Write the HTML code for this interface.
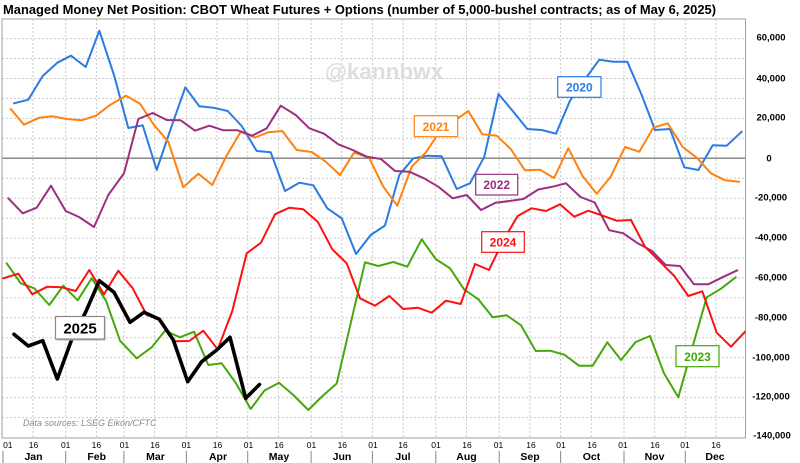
<!DOCTYPE html>
<html><head><meta charset="utf-8"><style>
html,body{margin:0;padding:0;background:#fff;}
svg{display:block;font-family:"Liberation Sans",Arial,sans-serif;}
</style></head><body>
<svg width="800" height="463" viewBox="0 0 800 463" xmlns="http://www.w3.org/2000/svg">
<rect width="800" height="463" fill="#fff"/>
<text x="3" y="14" font-size="12.5" font-weight="bold" fill="#000" textLength="713" lengthAdjust="spacingAndGlyphs">Managed Money Net Position: CBOT Wheat Futures + Options (number of 5,000-bushel contracts; as of May 6, 2025)</text>
<g stroke="#c9c9c9" stroke-width="1" stroke-dasharray="2,2" fill="none">
<line x1="2" x2="745" y1="38.6" y2="38.6"/><line x1="2" x2="745" y1="58.5" y2="58.5"/><line x1="2" x2="745" y1="78.5" y2="78.5"/><line x1="2" x2="745" y1="98.4" y2="98.4"/><line x1="2" x2="745" y1="118.4" y2="118.4"/><line x1="2" x2="745" y1="138.3" y2="138.3"/><line x1="2" x2="745" y1="178.2" y2="178.2"/><line x1="2" x2="745" y1="198.2" y2="198.2"/><line x1="2" x2="745" y1="218.1" y2="218.1"/><line x1="2" x2="745" y1="238.1" y2="238.1"/><line x1="2" x2="745" y1="258" y2="258"/><line x1="2" x2="745" y1="278" y2="278"/><line x1="2" x2="745" y1="297.9" y2="297.9"/><line x1="2" x2="745" y1="317.9" y2="317.9"/><line x1="2" x2="745" y1="337.8" y2="337.8"/><line x1="2" x2="745" y1="357.8" y2="357.8"/><line x1="2" x2="745" y1="377.7" y2="377.7"/><line x1="2" x2="745" y1="397.7" y2="397.7"/><line x1="2" x2="745" y1="417.6" y2="417.6"/>
<line y1="19" y2="438" x1="33" x2="33"/><line y1="19" y2="438" x1="65.7" x2="65.7"/><line y1="19" y2="438" x1="96.4" x2="96.4"/><line y1="19" y2="438" x1="123.9" x2="123.9"/><line y1="19" y2="438" x1="154.6" x2="154.6"/><line y1="19" y2="438" x1="186.4" x2="186.4"/><line y1="19" y2="438" x1="217" x2="217"/><line y1="19" y2="438" x1="247.7" x2="247.7"/><line y1="19" y2="438" x1="278.4" x2="278.4"/><line y1="19" y2="438" x1="311.1" x2="311.1"/><line y1="19" y2="438" x1="341.8" x2="341.8"/><line y1="19" y2="438" x1="372.4" x2="372.4"/><line y1="19" y2="438" x1="403.1" x2="403.1"/><line y1="19" y2="438" x1="435.8" x2="435.8"/><line y1="19" y2="438" x1="466.5" x2="466.5"/><line y1="19" y2="438" x1="499.2" x2="499.2"/><line y1="19" y2="438" x1="529.9" x2="529.9"/><line y1="19" y2="438" x1="560.6" x2="560.6"/><line y1="19" y2="438" x1="591.3" x2="591.3"/><line y1="19" y2="438" x1="624" x2="624"/><line y1="19" y2="438" x1="654.7" x2="654.7"/><line y1="19" y2="438" x1="685.3" x2="685.3"/><line y1="19" y2="438" x1="716" x2="716"/>
</g>
<text x="384" y="79" font-size="22.5" font-weight="bold" fill="#dedede" text-anchor="middle">@kannbwx</text>
<line x1="2" x2="745" y1="158.3" y2="158.3" stroke="#8a8a8a" stroke-width="1.5"/>
<rect x="2" y="19" width="743.5" height="419" fill="none" stroke="#a0a0a0" stroke-width="1"/>
<text x="23" y="426" font-size="9" font-style="italic" fill="#8a8a8a">Data sources: LSEG Eikon/CFTC</text>
<defs><clipPath id="c"><rect x="2" y="19" width="743.5" height="419"/></clipPath></defs>
<g clip-path="url(#c)" fill="none" stroke-linejoin="round" stroke-linecap="round">
<polyline stroke="#2a7be4" stroke-width="2" points="14,103.3 28.3,99.7 42.7,76 57.3,62.7 71,55.7 85.7,67 99.3,30.7 114,75 128.3,128 142.7,125.3 156.7,170 171,128 185.3,87.3 199.3,106.3 213.3,107.7 227.7,111 241.7,126 256.7,151 270.7,152.3 285,191 299.3,182.7 313.3,185.3 327.3,208.3 341.7,218.3 356,254 370.7,235 385,225.5 399.3,175 413.3,158.3 427.7,155.7 441.7,156.3 456.7,189 470,183.3 484.3,156.7 498.5,94 513.3,111.7 527.3,129 541.7,130 556,133.7 570,100.7 584.5,80 599.3,59.7 613.3,61.7 627.3,61.7 641.7,95 655,130 670,129 684.3,167.3 698.3,170 712.7,145.3 726.7,145.7 741.7,131.7"/>
<polyline stroke="#ff8110" stroke-width="2" points="10.7,109 24,124.7 39.3,117.7 52.7,116.3 66.7,119 81.7,120.3 96,115.7 110,105 126,95.7 140,103.7 154,125 168.3,141.7 183.3,187.3 198.3,173.7 212.3,185 226,156.7 240.7,131.7 255,137.5 268.3,132.3 282.3,131 296.7,150 311.7,152 325.7,161.7 340,175 354,152.7 369,157.7 383.3,186.7 397.3,205.7 411.7,166.7 426,152.3 440,131 454,121 468.3,111 482.3,134.3 496.7,135.7 510.7,149 525,170.3 540,169.7 554,178 568.3,148.3 582.7,176.3 596.7,193.7 610.7,176.7 625,147 639.3,151.7 653.3,127.7 667.7,123.3 682.7,147 696.7,157.7 711,173.3 725,180.3 739.3,181.7"/>
<polyline stroke="#9c2f80" stroke-width="2" points="8.3,198.3 22.7,213.3 36.7,207.7 51,185.7 65.7,211 79,217 94,227 108.3,195 124,173.3 138.3,119 152.7,113 166.7,120 180.7,120.3 195,130.7 209.3,125.7 223.3,130.3 237.7,130.3 252,135.7 266.7,128.3 280.7,105.7 295.7,115 309.3,128.3 324,133.7 338.3,144.3 352.7,150 366.7,156.7 381,159 395,171 409.3,171.7 424,178.3 438.3,186.7 452.7,198.3 466.7,195 481,210 495.7,202.7 509.5,201 523.3,199 538.3,189.5 552.7,186.7 566,183.3 580.5,197 594.7,202.5 609.2,230.2 623.3,233.3 637.7,243.3 651.7,250.7 665.7,265 680,266 694,284.3 708.3,284.3 722.3,277.3 737.3,270.3"/>
<polyline stroke="#44a80c" stroke-width="2" points="6.7,263.3 20.7,283.3 34.3,288.3 49.3,305 63.3,285.7 77.7,300.3 91.7,278.3 106,300.7 120,340.7 136.7,358.3 151.7,347.3 165,330.7 180,337.3 194,331.7 208.3,365 221.7,363.3 236,383.3 250.7,409 264.5,390.5 279,382.7 293.3,395 308.3,410 322.5,396 336.7,383.5 350.7,323.3 365,262.3 378.3,266 393.3,262 407.3,266.7 421.7,239.3 435.7,259 450,268.3 464,289.3 478.3,299.3 492.7,317.3 506.7,315.3 521,325.3 535.7,351 550,350.7 564.3,354.7 579,365.7 592.7,365.7 607.3,342.3 621,360 635.7,342 650,336 664,373.3 678.3,397.3 692.5,347 706.7,297.3 721,288.7 735.7,277.3"/>
<polyline stroke="#ff1010" stroke-width="2" points="3.3,278.3 18.3,273.7 32.3,294.3 47.3,286.7 61.7,287.3 75.7,291 89.3,270 104,294.3 118.3,270.7 132.7,288.3 146.7,315 160,319 175,341.3 189.3,341 203.3,330.7 217.7,349.3 232.3,311 246.7,253.3 261,242.7 275,214.3 289.3,207.7 303.3,209.3 317.7,221.7 332.3,249.3 346.7,263.3 360,298.3 375,305.7 389.3,296 403.3,309 417.7,307.7 431.7,312.7 446,300.7 460.7,304 475,264 489,270 503.5,240 517.7,216 531.7,208.3 546,211 560,204.3 574.3,216.7 588.3,210.7 602.7,215.7 616.7,220.7 631,220 645,246.7 660,261.7 674.3,276 688.3,296 702.3,291.3 716.7,332.7 731,346.7 746,330.7"/>
<polyline stroke="#000" stroke-width="3.6" points="14,334.3 28.3,346 42.7,340.7 57.3,379 71.5,340 85.7,312 99.3,280.7 114,292.3 130,322.3 144,312.3 159.3,319.3 173.3,340 187.7,381.7 201.7,361.7 216.7,350 230,337.3 245.7,398.3 259.5,384.5"/>
</g>
<g font-size="12" font-weight="bold" text-anchor="middle">
<rect x="557.7" y="76.7" width="43.3" height="20.6" fill="#fff" stroke="#2a7be4" stroke-width="1.2"/><text x="579.3" y="91.5" fill="#2a7be4">2020</text>
<rect x="414.3" y="115.7" width="43.4" height="21" fill="#fff" stroke="#ff8110" stroke-width="1.2"/><text x="436" y="130.8" fill="#ff8110">2021</text>
<rect x="475.7" y="174.3" width="42" height="20.7" fill="#fff" stroke="#9c2f80" stroke-width="1.2"/><text x="496.7" y="189.2" fill="#9c2f80">2022</text>
<rect x="481.7" y="231.7" width="42.6" height="20.6" fill="#fff" stroke="#ff1010" stroke-width="1.2"/><text x="503" y="246.5" fill="#ff1010">2024</text>
<rect x="676" y="345.7" width="43" height="21" fill="#fff" stroke="#44a80c" stroke-width="1.2"/><text x="697.5" y="360.8" fill="#44a80c">2023</text>
<rect x="56.5" y="317.5" width="49" height="23" fill="#b0b0b0"/>
<rect x="55.5" y="316.5" width="49" height="22.5" fill="#fff" stroke="#8a8a8a" stroke-width="1.2"/><text x="80" y="333.5" fill="#000" font-size="15">2025</text>
</g>
<g font-size="9.5" font-weight="bold" text-anchor="middle" fill="#000">
<text x="771" y="40.5">60,000</text><text x="771" y="81.5">40,000</text><text x="771" y="120.5">20,000</text><text x="769" y="161.5">0</text><text x="771" y="200.5">-20,000</text><text x="771" y="240.5">-40,000</text><text x="771" y="280.5">-60,000</text><text x="771" y="320.5">-80,000</text><text x="771" y="360.5">-100,000</text><text x="771" y="399.5">-120,000</text><text x="772" y="438.5">-140,000</text>
</g>
<g font-size="8.5" text-anchor="middle" fill="#000">
<text x="7.8" y="448">01</text><text x="33.5" y="448">16</text><text x="65.7" y="448">01</text><text x="96.4" y="448">16</text><text x="124.5" y="448">01</text><text x="155" y="448">16</text><text x="186.4" y="448">01</text><text x="217.5" y="448">16</text><text x="248.5" y="448">01</text><text x="279" y="448">16</text><text x="311.5" y="448">01</text><text x="342.3" y="448">16</text><text x="373" y="448">01</text><text x="403" y="448">16</text><text x="436" y="448">01</text><text x="467" y="448">16</text><text x="498.5" y="448">01</text><text x="531" y="448">16</text><text x="561" y="448">01</text><text x="592" y="448">16</text><text x="623" y="448">01</text><text x="655" y="448">16</text><text x="685" y="448">01</text><text x="716" y="448">16</text>
</g>
<g font-size="10.5" font-weight="bold" text-anchor="middle" fill="#000">
<text x="33.5" y="460">Jan</text><text x="96.7" y="460">Feb</text><text x="155.5" y="460">Mar</text><text x="218" y="460">Apr</text><text x="279" y="460">May</text><text x="342" y="460">Jun</text><text x="403" y="460">Jul</text><text x="466.5" y="460">Aug</text><text x="530" y="460">Sep</text><text x="591.5" y="460">Oct</text><text x="654.5" y="460">Nov</text><text x="715" y="460">Dec</text>
</g>
<g stroke="#888" stroke-width="1">
<line x1="3" x2="3" y1="451" y2="463"/><line x1="65.7" x2="65.7" y1="451" y2="463"/><line x1="123.9" x2="123.9" y1="451" y2="463"/><line x1="186.4" x2="186.4" y1="451" y2="463"/><line x1="247.7" x2="247.7" y1="451" y2="463"/><line x1="311.1" x2="311.1" y1="451" y2="463"/><line x1="372.4" x2="372.4" y1="451" y2="463"/><line x1="435.8" x2="435.8" y1="451" y2="463"/><line x1="499.2" x2="499.2" y1="451" y2="463"/><line x1="560.6" x2="560.6" y1="451" y2="463"/><line x1="624" x2="624" y1="451" y2="463"/><line x1="685.3" x2="685.3" y1="451" y2="463"/>
</g>
</svg>
</body></html>
